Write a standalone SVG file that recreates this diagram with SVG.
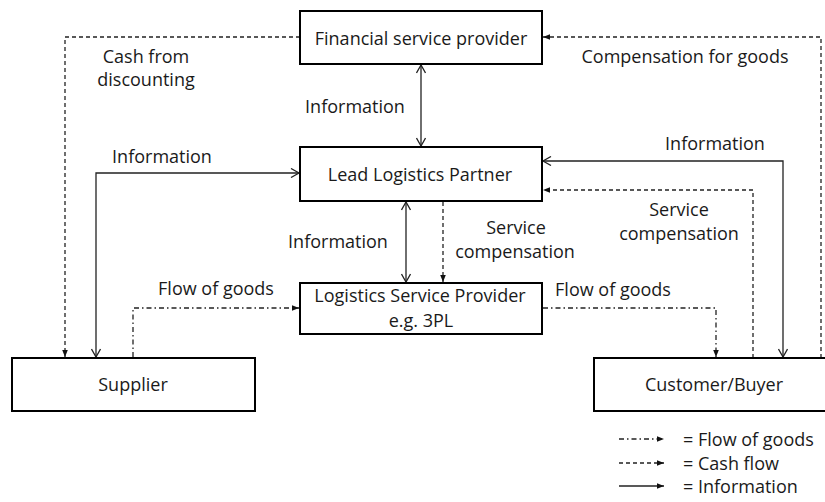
<svg xmlns="http://www.w3.org/2000/svg" width="825" height="502" viewBox="0 0 825 502">
<style>
text{font-family:"Open Sans","Liberation Sans",sans-serif;font-size:18px;fill:#1a1a1a}
.c{text-anchor:middle}
.box{fill:#fff;stroke:#000;stroke-width:2}
.ln{fill:none;stroke:#222;stroke-width:1.3}
.cash{stroke-dasharray:4 3}
.goods{stroke-dasharray:5 3 1.5 3}
</style>
<defs>
<marker id="open" viewBox="0 0 10 10" refX="10" refY="5" markerWidth="10" markerHeight="10" markerUnits="userSpaceOnUse" orient="auto-start-reverse">
<path d="M2,0.5 L10,5 L2,9.5" fill="none" stroke="#222" stroke-width="1.3"/>
</marker>
<marker id="fill" viewBox="0 0 10 10" refX="10" refY="5" markerWidth="7" markerHeight="7" markerUnits="userSpaceOnUse" orient="auto">
<path d="M0,1 L10,5 L0,9 Z" fill="#111"/>
</marker>
</defs>
<g id="connectors">
<path class="ln cash" d="M300,37 H65 V357" marker-end="url(#fill)"/>
<path class="ln cash" d="M821,358 V37 H543" marker-end="url(#fill)"/>
<path class="ln" d="M421,65 V146" marker-start="url(#open)" marker-end="url(#open)"/>
<path class="ln" d="M406,202 V282" marker-start="url(#open)" marker-end="url(#open)"/>
<path class="ln cash" d="M443,202 V282" marker-end="url(#fill)"/>
<path class="ln" d="M299,173 H96 V357" marker-start="url(#open)" marker-end="url(#open)"/>
<path class="ln" d="M543,161 H783 V357" marker-start="url(#open)" marker-end="url(#open)"/>
<path class="ln cash" d="M753,358 V190 H543" marker-end="url(#fill)"/>
<path class="ln goods" d="M133,357 V308 H299" marker-end="url(#fill)"/>
<path class="ln goods" d="M543,308 H716 V357" marker-end="url(#fill)"/>
<text class="c" x="146" y="63">Cash from</text>
<text class="c" x="146" y="86">discounting</text>
<text class="c" x="355" y="113">Information</text>
<text class="c" x="685" y="63">Compensation for goods</text>
<text class="c" x="162" y="163">Information</text>
<text class="c" x="715" y="150">Information</text>
<text class="c" x="338" y="248">Information</text>
<text class="c" x="516" y="234">Service</text>
<text class="c" x="515" y="258">compensation</text>
<text class="c" x="679" y="216">Service</text>
<text class="c" x="679" y="240">compensation</text>
<text class="c" x="216" y="295">Flow of goods</text>
<text class="c" x="613" y="296">Flow of goods</text>
</g>
<g id="fsp">
<rect class="box" x="300" y="11" width="242" height="53"/>
<text class="c" x="421" y="45">Financial service provider</text>
</g>
<g id="llp">
<rect class="box" x="300" y="147" width="242" height="54"/>
<text class="c" x="420" y="181">Lead Logistics Partner</text>
</g>
<g id="lsp">
<rect class="box" x="300" y="283" width="242" height="51"/>
<text class="c" x="420" y="302">Logistics Service Provider</text>
<text class="c" x="421" y="327">e.g. 3PL</text>
</g>
<g id="supplier">
<rect class="box" x="12" y="358" width="243" height="53"/>
<text class="c" x="133" y="391">Supplier</text>
</g>
<g id="customer">
<rect class="box" x="594" y="358" width="240" height="53"/>
<text class="c" x="714" y="391">Customer/Buyer</text>
</g>
<g id="legend">
<path class="ln goods" d="M619,439 H664" marker-end="url(#fill)"/>
<path class="ln cash" d="M619,463 H664" marker-end="url(#fill)"/>
<path class="ln" d="M619,486 H664" marker-end="url(#fill)"/>
<text x="683" y="446">= Flow of goods</text>
<text x="683" y="470">= Cash flow</text>
<text x="683" y="493">= Information</text>
</g>
</svg>
